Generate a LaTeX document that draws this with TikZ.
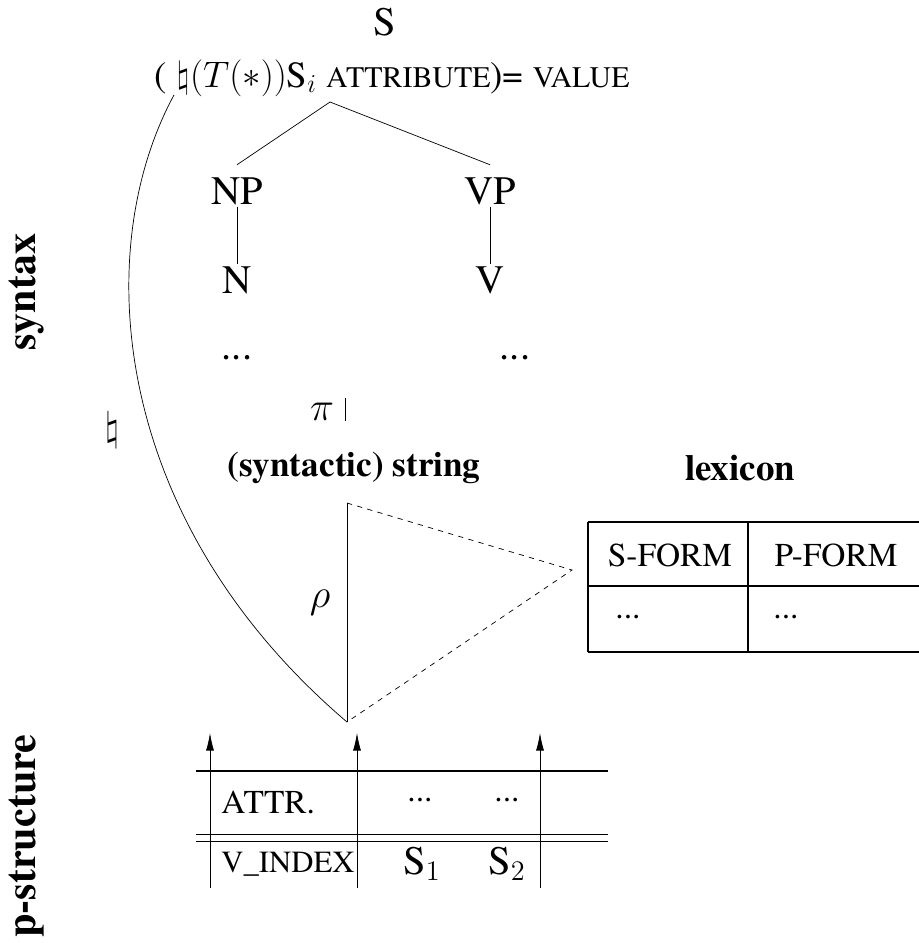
\documentclass[tikz,border=0pt]{standalone}
\usepackage{fix-cm}
\usepackage{fontspec}
\setmainfont{texgyretermes}[Extension=.otf, UprightFont=*-regular, BoldFont=*-bold, ItalicFont=*-italic, BoldItalicFont=*-bolditalic]
\usetikzlibrary{positioning}
\usetikzlibrary{arrows.meta}

\newcommand{\smcap}[1]{{\fontsize{17}{19}\selectfont #1}}

\begin{document}
\begin{tikzpicture}[x=0.02cm,y=-0.02cm,
  cat/.style={font=\fontsize{23}{26}\selectfont, inner sep=1pt},
  side/.style={font=\bfseries\fontsize{24}{28}\selectfont, rotate=90},
  head/.style={font=\bfseries\fontsize{20}{24}\selectfont},
  cell/.style={font=\fontsize{19}{21}\selectfont},
  rule/.style={line width=1pt}]
\useasboundingbox (0,0) rectangle (919,943);

 %side labels:
 \node[side] (syn) at (27,292) {syntax};
 \node[side] (pst) at (27,836) {p-structure};

 %tree:
 \node[cat] (S) at (385,22) {S};
 \node[font=\fontsize{21}{24}\selectfont] (feq) at (392,78) {( $\natural(T(*))$S$_i$ \smcap{ATTRIBUTE})= \smcap{VALUE}};
 \coordinate (apex) at (330,102);
 \node[cat] (NP) at (237,191) {NP};
 \node[cat] (VP) at (490,191) {VP};
 \node[cat] (N) at (237,280) {N};
 \node[cat] (V) at (490,280) {V};
 \node[cat] (ndots) at (237,358) {...};
 \node[cat] (vdots) at (515,358) {...};
 \draw (apex) -- ([yshift=6pt]NP.north);
 \draw (apex) -- ([yshift=6pt]VP.north);
 \draw (NP) -- (N);
 \draw (VP) -- (V);

 %projection to the string
 \node[cat] (pi) at (322,412) {$\pi$};
 \coordinate (pitop) at (345,398);
 \coordinate (pibot) at (345,421);
 \draw (pitop) -- (pibot);
 \node[head] (string) at (354,468) {(syntactic) string};
 \node[head, font=\bfseries\fontsize{21}{24}\selectfont] (lex) at (740,468) {lexicon};

 %rho triangle
 \coordinate (rtop) at (347,503);
 \coordinate (rbot) at (347,722);
 \coordinate (rmid) at (572,570);
 \draw (rtop) -- (rbot);
 \draw[dashed] (rtop) -- (rmid) -- (rbot);
 \node[cat] (rho) at (320,603) {$\rho$};

 %natural curve
 \coordinate (natstart) at (174,95);
 \draw (natstart) .. controls (90,250) and (110,520) .. (rbot);
 \node[cat] (nat) at (112,430) {$\natural$};

 %lexicon table
 \draw[rule] (588,522) -- (919,522);
 \draw[rule] (588,586) -- (919,586);
 \draw[rule] (588,652) -- (919,652);
 \draw[rule] (588,522) -- (588,652);
 \draw[rule] (748,522) -- (748,652);
 \node[cell] (sform) at (670,555) {S-FORM};
 \node[cell] (pform) at (836,555) {P-FORM};
 \node[cell] (sdots) at (628,617) {...};
 \node[cell] (pdots) at (786,617) {...};

 %p-structure table
 \draw[rule] (196,771) -- (608,771);
 \draw (196,834) -- (608,834);
 \draw (196,841) -- (608,841);
 \foreach \x [count=\i] in {210,357,540} {
   \coordinate (lo\i) at (\x,888);
   \coordinate (hi\i) at (\x,733);
   \draw[-{Latex[length=10pt,width=4.5pt]}] (lo\i) -- (hi\i);
 }
 \node[cell, anchor=west, inner sep=0pt] (attr) at (221,802) {ATTR.};
 \node[cell] (adots1) at (420,800) {...};
 \node[cell] (adots2) at (507,800) {...};
 \node[cell, anchor=west, inner sep=0pt, font=\fontsize{17.5}{20}\selectfont] (vidx) at (221,864) {V\_INDEX};
 \node[cat] (s1) at (422,864) {S$_1$};
 \node[cat] (s2) at (507,864) {S$_2$};
\end{tikzpicture}
\end{document}
